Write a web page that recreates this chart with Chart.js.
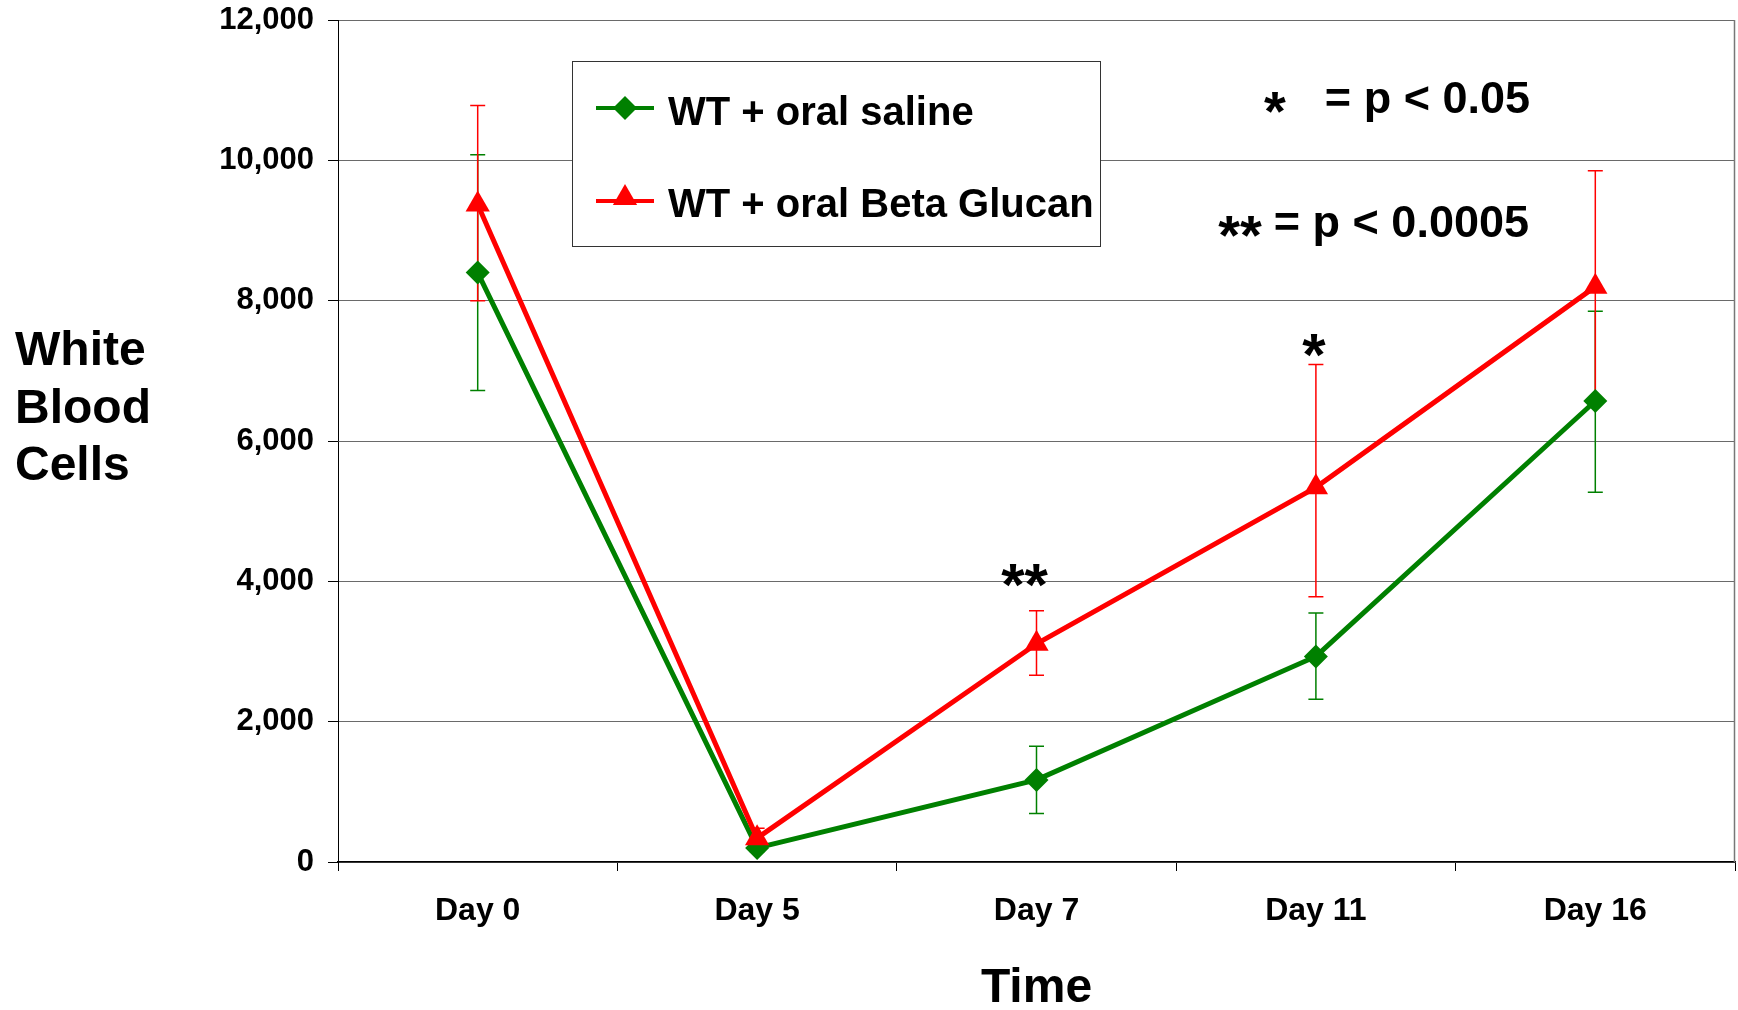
<!DOCTYPE html>
<html>
<head>
<meta charset="utf-8">
<script src="https://cdn.jsdelivr.net/npm/chart.js@4.4.1/dist/chart.umd.min.js"></script>
<style>
  html, body { margin: 0; padding: 0; background: #fff; }
  #wrap { width: 1738px; height: 1010px; }
</style>
</head>
<body>
<div id="wrap"><canvas id="c" width="1738" height="1010"></canvas></div>
<script>
// ---- data ----
const categories = ['Day 0', 'Day 5', 'Day 7', 'Day 11', 'Day 16'];
const salineLabel = 'WT + oral saline';
const glucanLabel = 'WT + oral Beta Glucan';
const salineValues = [8400, 200, 1170, 2930, 6570];
const salineUpper  = [10080, 250, 1650, 3550, 7850];
const salineLower  = [6720, 150, 690, 2320, 5270];
const glucanValues = [9370, 340, 3110, 5340, 8200];
const glucanUpper  = [10780, 480, 3580, 7090, 9850];
const glucanLower  = [8000, 200, 2660, 3780, 6550];
const yTicks = [0, 2000, 4000, 6000, 8000, 10000, 12000];
const sigMarks = [ { index: 2, text: '**', value: 3900 }, { index: 3, text: '*', value: 7170 } ];
const yTitleLines = ['White', 'Blood', 'Cells'];
const xTitle = 'Time';

const GREEN = '#008000';
const RED = '#ff0000';
const FONT = "'Liberation Sans', Arial, Helvetica, sans-serif";

const errorBars = {
  id: 'errorBars',
  beforeDatasetsDraw(chart) {
    const ctx = chart.ctx;
    const xs = chart.scales.x, ys = chart.scales.y;
    const sets = [
      { up: salineUpper, lo: salineLower, color: GREEN },
      { up: glucanUpper, lo: glucanLower, color: RED }
    ];
    ctx.save();
    ctx.lineWidth = 1.5;
    sets.forEach(s => {
      ctx.strokeStyle = s.color;
      categories.forEach((c, i) => {
        const x = xs.getPixelForValue(i);
        const yu = ys.getPixelForValue(s.up[i]);
        const yl = ys.getPixelForValue(s.lo[i]);
        ctx.beginPath();
        ctx.moveTo(x, yu); ctx.lineTo(x, yl);
        ctx.moveTo(x - 7.5, yu); ctx.lineTo(x + 7.5, yu);
        ctx.moveTo(x - 7.5, yl); ctx.lineTo(x + 7.5, yl);
        ctx.stroke();
      });
    });
    ctx.restore();
  }
};

function drawDiamond(ctx, x, y, r) {
  ctx.beginPath();
  ctx.moveTo(x - r, y); ctx.lineTo(x, y - r); ctx.lineTo(x + r, y); ctx.lineTo(x, y + r);
  ctx.closePath(); ctx.fill();
}
function drawTriangle(ctx, x, y, r) {
  ctx.beginPath();
  ctx.moveTo(x, y - r);
  ctx.lineTo(x + r * Math.sqrt(3) / 2, y + r / 2);
  ctx.lineTo(x - r * Math.sqrt(3) / 2, y + r / 2);
  ctx.closePath(); ctx.fill();
}

const extras = {
  id: 'extras',
  afterDraw(chart) {
    const ctx = chart.ctx;
    const ca = chart.chartArea;
    const xs = chart.scales.x, ys = chart.scales.y;
    ctx.save();
    // right border
    ctx.strokeStyle = '#777';
    ctx.lineWidth = 1.5;
    ctx.beginPath();
    ctx.moveTo(ca.right - 0.5, ca.top); ctx.lineTo(ca.right - 0.5, ca.bottom);
    ctx.stroke();

    // legend box
    const lx = 572, ly = 61, lw = 528, lh = 185;
    ctx.fillStyle = '#fff';
    ctx.fillRect(lx, ly, lw, lh);
    ctx.strokeStyle = '#333';
    ctx.lineWidth = 1;
    ctx.strokeRect(lx + 0.5, ly + 0.5, lw, lh);
    const items = [
      { label: salineLabel, color: GREEN, y: 108, shape: 'diamond', base: 125 },
      { label: glucanLabel, color: RED, y: 201, shape: 'triangle', base: 217 }
    ];
    items.forEach(it => {
      ctx.strokeStyle = it.color; ctx.fillStyle = it.color; ctx.lineWidth = 4;
      ctx.beginPath(); ctx.moveTo(596, it.y); ctx.lineTo(654, it.y); ctx.stroke();
      if (it.shape === 'diamond') drawDiamond(ctx, 625, it.y, 12);
      else drawTriangle(ctx, 625, it.y - 3, 14);
      ctx.fillStyle = '#000';
      ctx.font = 'bold 40px ' + FONT;
      ctx.textAlign = 'left'; ctx.textBaseline = 'alphabetic';
      ctx.fillText(it.label, 668, it.base);
    });

    // p-value notes
    ctx.fillStyle = '#000';
    ctx.font = 'bold 45px ' + FONT;
    ctx.textBaseline = 'alphabetic';
    ctx.textAlign = 'right';
    ctx.fillText('= p < 0.05', 1530, 113);
    ctx.fillText('= p < 0.0005', 1529, 237);
    ctx.font = 'bold 56px ' + FONT;
    ctx.textAlign = 'center';
    ctx.textBaseline = 'middle';
    ctx.fillText('*', 1275, 115);
    ctx.fillText('**', 1240, 239);

    // significance marks
    ctx.font = 'bold 60px ' + FONT;
    ctx.textAlign = 'center';
    ctx.textBaseline = 'middle';
    sigMarks.forEach(m => {
      const dx = m.text.length > 1 ? -12 : -2;
      ctx.fillText(m.text, xs.getPixelForValue(m.index) + dx, ys.getPixelForValue(m.value));
    });

    // y title (horizontal)
    ctx.font = 'bold 48px ' + FONT;
    ctx.textAlign = 'left';
    ctx.textBaseline = 'middle';
    yTitleLines.forEach((t, i) => ctx.fillText(t, 15, 352 + i * 57.5));
    ctx.restore();
  }
};

new Chart(document.getElementById('c'), {
  type: 'line',
  data: {
    labels: categories,
    datasets: [
      {
        label: salineLabel, data: salineValues, order: 1,
        borderColor: GREEN, backgroundColor: GREEN, borderWidth: 5,
        pointStyle: 'rectRot', pointRadius: 12, pointBorderWidth: 0,
        pointBackgroundColor: GREEN, tension: 0, fill: false
      },
      {
        label: glucanLabel, data: glucanValues, order: 0,
        borderColor: RED, backgroundColor: RED, borderWidth: 5,
        pointStyle: 'triangle', pointRadius: 14, pointBorderWidth: 0,
        pointBackgroundColor: RED, tension: 0, fill: false
      }
    ]
  },
  options: {
    responsive: false,
    animation: false,
    devicePixelRatio: 1,
    layout: { autoPadding: false, padding: { top: 20, right: 3, left: 0, bottom: 0 } },
    plugins: { legend: { display: false }, tooltip: { enabled: false } },
    scales: {
      x: {
        type: 'category',
        offset: true,
        grid: { display: true, drawOnChartArea: false, offset: true, tickLength: 9, tickColor: '#000', tickWidth: 1 },
        border: { display: true, color: '#000', width: 1.5 },
        ticks: { color: '#000', font: { family: FONT, size: 32, weight: 'bold' }, padding: 21, maxRotation: 0 },
        title: { display: true, text: xTitle, color: '#000', font: { family: FONT, size: 48, weight: 'bold', lineHeight: 0.88 }, padding: { top: 0, bottom: 0 } },
        afterFit(scale) { scale.height = 148; scale.paddingLeft = 0; scale.paddingRight = 0; }
      },
      y: {
        min: 0, max: 12000,
        afterBuildTicks(scale) { scale.ticks = yTicks.map(v => ({ value: v })); },
        grid: { color: '#6a6a6a', lineWidth: 1, tickLength: 10, tickColor: '#000', tickWidth: 1 },
        border: { display: true, color: '#000', width: 1 },
        ticks: { color: '#000', font: { family: FONT, size: 31, weight: 'bold' }, padding: 14,
                 callback: v => Number(v).toLocaleString('en-US') },
        afterFit(scale) { scale.width = 338; scale.paddingTop = 0; scale.paddingBottom = 0; }
      }
    }
  },
  plugins: [errorBars, extras]
});
</script>
</body>
</html>
